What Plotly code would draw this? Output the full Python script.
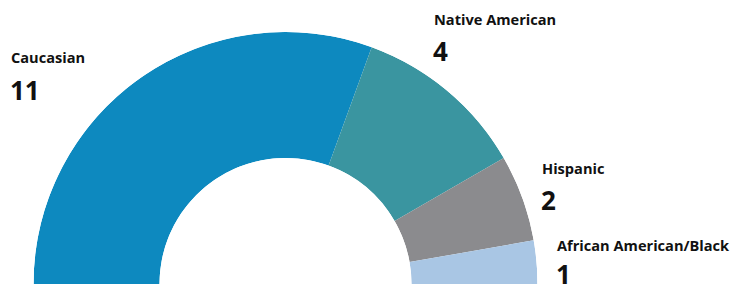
import plotly.graph_objects as go

categories = ["Caucasian", "Native American", "Hispanic", "African American/Black"]
counts = [11, 4, 2, 1]
colors = ["#0d89bf", "#3a95a0", "#8b8b8e", "#a9c6e4"]

total = sum(counts)
span = 180.0
widths = [c * span / total for c in counts]
mids = []
acc = 0.0
for w in widths:
    mids.append(acc + w / 2)
    acc += w

W, H = 743, 287

fig = go.Figure()
fig.add_trace(go.Barpolar(
    r=[1] * len(counts),
    base=[0] * len(counts),
    theta=mids,
    width=widths,
    marker=dict(color=colors, line=dict(width=0)),
    text=categories,
    hoverinfo="text",
    showlegend=False,
))

fig.update_layout(
    width=W, height=H,
    margin=dict(l=0, r=0, t=0, b=0),
    paper_bgcolor="white",
    plot_bgcolor="white",
    polar=dict(
        domain=dict(x=[33 / W, 538 / W], y=[3 / H, (H - 32) / H]),
        sector=[0, 180],
        hole=0.5,
        bgcolor="rgba(0,0,0,0)",
        angularaxis=dict(visible=False, direction="clockwise", rotation=180,
                         thetaunit="degrees"),
        radialaxis=dict(visible=False, range=[0, 1]),
    ),
)

# label positions (pixels): name top-left, number top-left
label_pos = [(9, 45), (432, 7), (540, 156), (555, 233)]
num_pos = [(8, 70), (431, 31), (539, 180), (554, 254)]
font_family = "'Open Sans', Roboto, sans-serif"
for cat, cnt, (lx, ly), (nx, ny) in zip(categories, counts, label_pos, num_pos):
    fig.add_annotation(x=lx / W, y=1 - ly / H, xref="paper", yref="paper",
                       xanchor="left", yanchor="top", showarrow=False,
                       text=f"<b>{cat}</b>",
                       font=dict(family=font_family, size=14.6, color="#111111"))
    fig.add_annotation(x=nx / W, y=1 - ny / H, xref="paper", yref="paper",
                       xanchor="left", yanchor="top", showarrow=False,
                       text=f"<b>{cnt}</b>",
                       font=dict(family=font_family, size=26, color="#111111"))

fig.write_html("out.html", config={"displayModeBar": False},
               post_script="document.body.style.margin='0';document.body.style.overflow='hidden';")
